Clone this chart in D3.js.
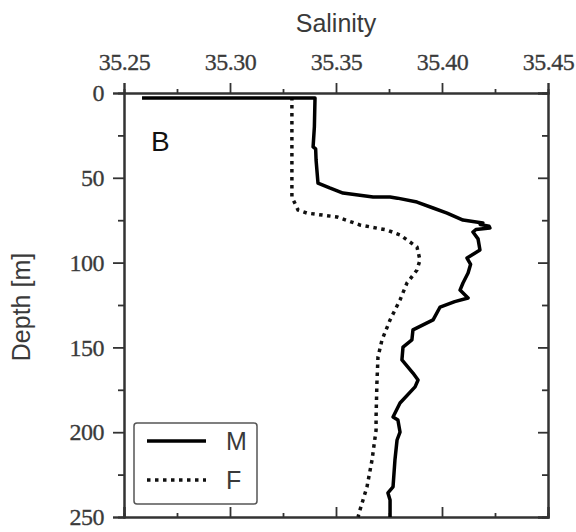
<!DOCTYPE html>
<html>
<head>
<meta charset="utf-8">
<script src="https://cdn.jsdelivr.net/npm/d3@7"></script>
<style>
  body { margin: 0; background: #fff; }
  .lbl { font-family: "Liberation Sans", Arial, sans-serif; fill: #3a3a3a; }
</style>
</head>
<body>
<div id="chart"></div>
<script>
// salinity ticks (top axis)
var salTicks = [35.25, 35.30, 35.35, 35.40, 35.45];
var salMinor = [35.275, 35.325, 35.375, 35.425];
var depthTicks = [0, 50, 100, 150, 200, 250];
var depthMinor = [25, 75, 125, 175, 225];

// M profile (solid)
var mDepth = [2.9, 2.9, 20, 31.8, 33, 39.5, 53.1, 56, 59.0, 61.3, 61.3, 62, 64.3, 67.8, 70.8, 74.9, 76.6, 77.5, 78.5, 79.6, 80.5,
  82.0, 86, 92.6, 97.3, 101, 106.1, 112.0, 116.2, 120.9, 123, 126.2, 133.8, 139.7, 145.6, 149.8, 157.4, 165.1, 169.2, 173.3,
  182.8, 191.0, 192.8, 199.9, 204.6, 216.4, 232.3, 235.8, 240.0, 250];
var mSal = [35.2585, 35.3401, 35.3398, 35.3392, 35.3404, 35.3406, 35.3415, 35.3470, 35.3533, 35.3675, 35.3755, 35.3790, 35.3882, 35.3958, 35.4024, 35.4099, 35.4193, 35.4180, 35.4222, 35.4226, 35.4160,
  35.4146, 35.4170, 35.4179, 35.4118, 35.4135, 35.4123, 35.4099, 35.4085, 35.4123, 35.4060, 35.3991, 35.3958, 35.3863, 35.3858, 35.3816, 35.3811, 35.3863, 35.3887, 35.3873,
  35.3802, 35.3769, 35.3792, 35.3802, 35.3788, 35.3778, 35.3769, 35.3745, 35.3755, 35.3755];

// F profile (dotted)
var fDepth = [2.4, 30, 61.3, 69.0, 70.8, 73.1, 77.8, 80.8, 83.7, 90.8, 98.5, 104.4, 112.0, 122.0, 133.8, 145.6, 155.7, 171.0,
  191.0, 198.7, 216.4, 232.3, 245.9, 250];
var fSal = [35.3292, 35.3292, 35.3292, 35.3321, 35.3363, 35.3505, 35.3613, 35.3741, 35.3802, 35.3882, 35.3896, 35.3882, 35.3835, 35.3802, 35.3755, 35.3717, 35.3698, 35.3693,
  35.3689, 35.3689, 35.3670, 35.3646, 35.3613, 35.3604];

var margin = {top: 93, right: 28, bottom: 15, left: 124},
    width = 576 - margin.left - margin.right,
    height = 532 - margin.top - margin.bottom;

var svg = d3.select("#chart")
  .append("svg")
    .attr("width", 576)
    .attr("height", 532)
  .append("g")
    .attr("transform", "translate(" + margin.left + "," + margin.top + ")");

var x = d3.scaleLinear().domain([35.25, 35.45]).range([0, width]);
var y = d3.scaleLinear().domain([0, 250]).range([0, height]);

function styleAxis(g) {
  g.select(".domain").attr("stroke", "#333").attr("stroke-width", 2);
  g.selectAll(".tick line").attr("stroke", "#333").attr("stroke-width", 1.8);
  g.selectAll(".tick text")
    .style("font-family", "Liberation Serif")
    .style("font-size", "24px")
    .style("letter-spacing", "-0.5px")
    .attr("fill", "#3a3a3a")
    .attr("stroke", "#3a3a3a")
    .attr("stroke-width", 0.3);
}

// minor ticks first so the major axes draw over them
svg.append("g").call(d3.axisTop(x).tickValues(salMinor).tickSize(4).tickFormat("")).call(styleAxis);
svg.append("g").attr("transform", "translate(0," + height + ")")
  .call(d3.axisBottom(x).tickValues(salMinor).tickSize(-4).tickFormat("")).call(styleAxis);
svg.append("g").call(d3.axisLeft(y).tickValues(depthMinor).tickSize(6).tickFormat("")).call(styleAxis);
svg.append("g").attr("transform", "translate(" + width + ",0)")
  .call(d3.axisRight(y).tickValues(depthMinor).tickSize(-6).tickFormat("")).call(styleAxis);

// major axes
svg.append("g")
  .call(d3.axisTop(x).tickValues(salTicks).tickSize(10).tickPadding(13).tickFormat(d3.format(".2f")))
  .call(styleAxis);
svg.append("g").attr("transform", "translate(0," + height + ")")
  .call(d3.axisBottom(x).tickValues(salTicks).tickSize(-10).tickFormat(""))
  .call(styleAxis);
svg.append("g")
  .call(d3.axisLeft(y).tickValues(depthTicks).tickSize(11).tickPadding(9))
  .call(styleAxis);
svg.append("g").attr("transform", "translate(" + width + ",0)")
  .call(d3.axisRight(y).tickValues(depthTicks).tickSize(-10).tickFormat(""))
  .call(styleAxis);

// axis labels
svg.append("text")
  .attr("class", "lbl")
  .attr("x", width / 2)
  .attr("y", -61)
  .attr("text-anchor", "middle")
  .style("font-size", "25px")
  .text("Salinity");

svg.append("text")
  .attr("class", "lbl")
  .attr("transform", "rotate(-90)")
  .attr("x", -height / 2 - 2)
  .attr("y", -94)
  .attr("text-anchor", "middle")
  .style("font-size", "25px")
  .text("Depth [m]");

// panel letter
svg.append("text")
  .attr("class", "lbl")
  .attr("x", 27)
  .attr("y", 58)
  .style("font-size", "28px")
  .style("fill", "#111")
  .text("B");

var line = d3.line()
  .x(function(d) { return x(d[1]); })
  .y(function(d) { return y(d[0]); });

svg.append("path")
  .datum(d3.zip(fDepth, fSal))
  .attr("d", line)
  .attr("fill", "none")
  .attr("stroke", "#111")
  .attr("stroke-width", 3.5)
  .attr("stroke-dasharray", "3.5,4.5");

svg.append("path")
  .datum(d3.zip(mDepth, mSal))
  .attr("d", line)
  .attr("fill", "none")
  .attr("stroke", "#000")
  .attr("stroke-width", 3.5)
  .attr("stroke-linejoin", "round");

// legend
var leg = svg.append("g").attr("transform", "translate(10,330)");
leg.append("rect")
  .attr("width", 123).attr("height", 81).attr("rx", 3)
  .attr("fill", "#fff").attr("stroke", "#555").attr("stroke-width", 1.5);
leg.append("line").attr("x1", 13).attr("x2", 72).attr("y1", 18).attr("y2", 18)
  .attr("stroke", "#000").attr("stroke-width", 3.5);
leg.append("line").attr("x1", 13).attr("x2", 72).attr("y1", 57).attr("y2", 57)
  .attr("stroke", "#111").attr("stroke-width", 3.5).attr("stroke-dasharray", "3.5,4.5");
leg.append("text").attr("class", "lbl").attr("x", 92).attr("y", 27).style("font-size", "25px").text("M");
leg.append("text").attr("class", "lbl").attr("x", 92).attr("y", 66).style("font-size", "25px").text("F");
</script>
</body>
</html>
